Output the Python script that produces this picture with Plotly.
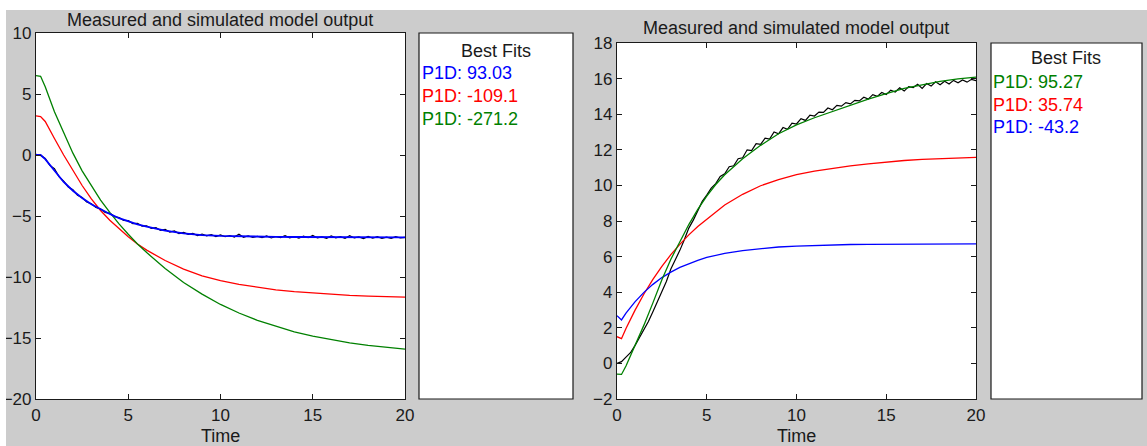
import numpy as np
import plotly.graph_objects as go

W, H = 1147, 446

# ---------------- data ----------------
t_meas = list(np.round(np.arange(0, 20.001, 0.25), 2))  # sample times of measured data

left_measured = [
    0.05, -0.02, -0.28, -0.85, -1.12, -1.78, -2.15, -2.62, -2.85, -3.30,
    -3.48, -3.85, -4.00, -4.30, -4.42, -4.70, -4.78, -5.05, -5.12, -5.36,
    -5.38, -5.62, -5.60, -5.83, -5.80, -6.02, -5.96, -6.18, -6.10, -6.32,
    -6.22, -6.44, -6.35, -6.50, -6.42, -6.60, -6.48, -6.63, -6.52, -6.68,
    -6.55, -6.70, -6.60, -6.72, -6.50, -6.74, -6.62, -6.76, -6.66, -6.78,
    -6.64, -6.80, -6.68, -6.77, -6.62, -6.79, -6.70, -6.82, -6.66, -6.78,
    -6.60, -6.80, -6.72, -6.83, -6.64, -6.79, -6.70, -6.84, -6.62, -6.80,
    -6.72, -6.85, -6.68, -6.82, -6.70, -6.84, -6.74, -6.83, -6.69, -6.80,
    -6.76,
]

right_measured = [
    0.00, 0.10, 0.35, 0.60, 1.00, 1.45, 1.85, 2.35, 2.90, 3.45,
    4.10, 4.60, 5.30, 5.80, 6.35, 6.95, 7.60, 8.05, 8.60, 9.10,
    9.45, 9.85, 10.10, 10.50, 10.65, 11.05, 11.10, 11.50, 11.55, 12.00,
    11.95, 12.35, 12.30, 12.65, 12.60, 13.00, 12.90, 13.25, 13.15, 13.50,
    13.45, 13.75, 13.65, 13.95, 13.90, 14.12, 14.10, 14.35, 14.25, 14.50,
    14.45, 14.65, 14.58, 14.78, 14.75, 14.95, 14.85, 15.10, 15.00, 15.22,
    15.10, 15.35, 15.25, 15.48, 15.30, 15.55, 15.50, 15.68, 15.45, 15.72,
    15.58, 15.82, 15.66, 15.85, 15.70, 15.90, 15.76, 15.92, 15.80, 15.96,
    15.88,
]

t_fit = [0, 0.25, 0.5, 0.75, 1, 1.5, 2, 2.5, 3, 3.5, 4, 4.5, 5, 5.5, 6,
         7, 8, 9, 10, 11, 12, 13, 14, 15, 16, 17, 18, 19, 20]

left_blue = [0, 0, -0.34, -0.80, -1.20, -2.21, -2.93, -3.53, -4.04, -4.47,
             -4.83, -5.18, -5.45, -5.68, -5.88, -6.20, -6.42, -6.56, -6.63,
             -6.67, -6.70, -6.71, -6.72, -6.73, -6.73, -6.74, -6.74, -6.75, -6.75]
left_red = [3.20, 3.15, 2.75, 2.10, 1.35, 0.00, -1.30, -2.50, -3.60, -4.55,
            -5.35, -6.05, -6.70, -7.30, -7.80, -8.65, -9.35, -9.90, -10.30,
            -10.60, -10.85, -11.05, -11.20, -11.32, -11.42, -11.50, -11.56, -11.61, -11.65]
left_green = [6.50, 6.45, 5.60, 4.60, 3.55, 1.85, 0.15, -1.30, -2.55, -3.70,
              -4.70, -5.65, -6.50, -7.30, -8.00, -9.30, -10.45, -11.40, -12.25,
              -12.95, -13.55, -14.05, -14.50, -14.85, -15.15, -15.40, -15.60, -15.78, -15.92]

right_green = [-0.60, -0.62, -0.15, 0.42, 1.00, 2.15, 3.40, 4.70, 5.85, 6.85,
               7.80, 8.65, 9.40, 10.05, 10.60, 11.50, 12.25, 12.90, 13.40,
               13.80, 14.15, 14.50, 14.85, 15.15, 15.45, 15.65, 15.85, 15.98, 16.08]
right_red = [1.50, 1.39, 1.96, 2.48, 2.98, 3.90, 4.72, 5.45, 6.11, 6.69,
             7.22, 7.69, 8.11, 8.52, 8.90, 9.50, 9.98, 10.33, 10.60,
             10.80, 10.96, 11.10, 11.21, 11.31, 11.40, 11.46, 11.51, 11.55, 11.58]
right_blue = [2.68, 2.44, 2.82, 3.15, 3.46, 3.99, 4.44, 4.82, 5.13, 5.39,
              5.61, 5.79, 5.95, 6.07, 6.18, 6.34, 6.46, 6.54, 6.59,
              6.63, 6.66, 6.68, 6.69, 6.70, 6.70, 6.71, 6.71, 6.72, 6.72]

left_fits = [("P1D: 93.03", "#0000ff"), ("P1D: -109.1", "#ff0000"), ("P1D: -271.2", "#008000")]
right_fits = [("P1D: 95.27", "#008000"), ("P1D: 35.74", "#ff0000"), ("P1D: -43.2", "#0000ff")]

title_text = "Measured and simulated model output"
xlabel = "Time"
left_yticks = [-20, -15, -10, -5, 0, 5, 10]
right_yticks = [-2, 0, 2, 4, 6, 8, 10, 12, 14, 16, 18]
xticks = [0, 5, 10, 15, 20]

# ---------------- layout helpers ----------------
def px(x):
    return x / W

def py(y):
    return 1 - y / H

FONT = "Liberation Sans, Arial, Helvetica, sans-serif"
TXT = "#1a1a1a"
BLUE, RED, GREEN, BLACK = "#0000ff", "#ff0000", "#008000", "#000000"

fig = go.Figure()

def line(x, y, color, xa, ya, width=1.3):
    fig.add_trace(go.Scatter(x=x, y=y, mode="lines", line=dict(color=color, width=width),
                             xaxis=xa, yaxis=ya, showlegend=False, hoverinfo="skip"))

# left panel
line(t_meas, left_measured, BLACK, "x", "y", 1.2)
line(t_fit, left_red, RED, "x", "y")
line(t_fit, left_green, GREEN, "x", "y")
line(t_fit, left_blue, BLUE, "x", "y", 1.8)
# right panel
line(t_meas, right_measured, BLACK, "x2", "y2", 1.2)
line(t_fit, right_red, RED, "x2", "y2")
line(t_fit, right_blue, BLUE, "x2", "y2")
line(t_fit, right_green, GREEN, "x2", "y2")

axis_common = dict(showline=True, linecolor=TXT, linewidth=1.2, mirror="ticks",
                   ticks="inside", ticklen=5, tickwidth=1, tickcolor=TXT,
                   showgrid=False, zeroline=False, automargin=False,
                   tickfont=dict(family=FONT, size=17, color=TXT))

fig.update_layout(
    width=W, height=H,
    margin=dict(l=0, r=0, t=0, b=0, pad=0, autoexpand=False),
    paper_bgcolor="#cccccc",
    plot_bgcolor="#ffffff",
    xaxis=dict(domain=[px(36), px(405)], range=[0, 20], tickvals=xticks, anchor="y",
               **axis_common),
    yaxis=dict(domain=[py(399), py(33)], range=[-20, 10], tickvals=left_yticks, anchor="x",
               **axis_common),
    xaxis2=dict(domain=[px(617), px(976)], range=[0, 20], tickvals=xticks, anchor="y2",
                **axis_common),
    yaxis2=dict(domain=[py(399), py(43)], range=[-2, 18], tickvals=right_yticks, anchor="x2",
                **axis_common),
)

shapes = [
    dict(type="rect", xref="paper", yref="paper", x0=0, x1=1, y0=py(10), y1=1,
         fillcolor="#ffffff", line=dict(width=0), layer="above"),
    dict(type="rect", xref="paper", yref="paper", x0=0, x1=px(6), y0=0, y1=1,
         fillcolor="#ffffff", line=dict(width=0), layer="above"),
    dict(type="rect", xref="paper", yref="paper", x0=px(419), x1=px(573), y0=py(399), y1=py(33),
         fillcolor="#ffffff", line=dict(color=TXT, width=1.2), layer="above"),
    dict(type="rect", xref="paper", yref="paper", x0=px(991), x1=px(1142), y0=py(399), y1=py(43),
         fillcolor="#ffffff", line=dict(color=TXT, width=1.2), layer="above"),
]
fig.update_layout(shapes=shapes)

ann = []
for cx, cy in [(220, 20), (796, 28)]:
    ann.append(dict(text=title_text, x=px(cx), y=py(cy), xref="paper", yref="paper",
                    xanchor="center", yanchor="middle", showarrow=False,
                    font=dict(family=FONT, size=18, color=TXT)))
for cx in [(36 + 405) / 2, (617 + 976) / 2]:
    ann.append(dict(text=xlabel, x=px(cx), y=py(424), xref="paper", yref="paper",
                    xanchor="center", yanchor="top", showarrow=False,
                    font=dict(family=FONT, size=18, color=TXT)))

def legend_box(cx, left, y_head, ys, fits):
    ann.append(dict(text="Best Fits", x=px(cx), y=py(y_head), xref="paper", yref="paper",
                    xanchor="center", yanchor="middle", showarrow=False,
                    font=dict(family=FONT, size=18, color=TXT)))
    for (txt, col), yy in zip(fits, ys):
        ann.append(dict(text=txt, x=px(left), y=py(yy), xref="paper", yref="paper",
                        xanchor="left", yanchor="middle", showarrow=False,
                        font=dict(family=FONT, size=18, color=col)))

legend_box(496, 420, 51, [73, 96, 119], left_fits)
legend_box(1066, 991, 58, [82, 105, 127], right_fits)

fig.update_layout(annotations=ann)

fig.write_html("out.html")
